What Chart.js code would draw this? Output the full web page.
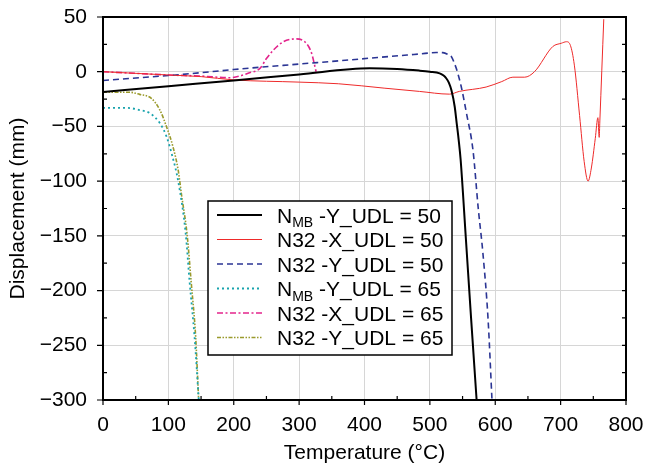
<!DOCTYPE html>
<html>
<head>
<meta charset="utf-8">
<script src="https://cdn.jsdelivr.net/npm/chart.js@4/dist/chart.umd.min.js"></script>
<style>
  html, body { margin: 0; padding: 0; background: #fff; }
  #wrap { width: 645px; height: 468px; position: relative; }
</style>
</head>
<body>
<div id="wrap"><canvas id="c" width="645" height="468"></canvas></div>
<script>
// ---- Data ----
const xTicks = [0, 100, 200, 300, 400, 500, 600, 700, 800];
const yTicks = [50, 0, -50, -100, -150, -200, -250, -300];

const nmbY50T = [0, 100, 200, 300, 408, 450, 484, 500, 515, 521, 525, 529, 533, 538, 541, 544, 547, 555, 563, 571.5];
const nmbY50D = [-18.5, -13.2, -8, -2.5, 3.2, 2.5, 1, 0, -1.5, -3.5, -6, -10, -17, -32, -47, -62, -80, -152, -225, -300];

const n32X50T = [0, 100, 150, 200, 300, 360, 430, 484, 530, 545, 586, 610, 627, 645, 660, 688, 701, 709, 715, 721, 729, 736, 742, 747, 753, 757, 759, 760, 766];
const n32X50D = [0, -3, -4.5, -7.5, -9.5, -11, -15, -18, -20.5, -18, -14, -9, -5, -5, 0, 23, 26, 27.4, 24, 6, -40, -82, -100, -88, -61, -42, -60, -45, 48];

const n32Y50T = [0, 100, 148, 200, 300, 362, 420, 484, 510, 520, 527, 533, 538, 542, 548, 556, 566, 574, 581, 589, 595];
const n32Y50D = [-8, -3.5, -1, 2, 7, 10, 13, 16.2, 17.5, 17.4, 16, 13.7, 7, 0, -13.7, -38, -72, -125, -165, -226, -300];

const nmbY65T = [0, 36, 56, 72, 87, 97, 106, 115, 126.5, 132.6, 140, 146.5];
const nmbY65D = [-33, -33, -35, -38, -47, -59, -77, -100, -148, -193, -242, -300];

const n32X65T = [0, 50, 100, 150, 194, 224, 240, 250, 261, 276, 295, 311, 319, 326];
const n32X65D = [0, -1.5, -3, -4, -5.5, -1, 3, 12, 20, 27.4, 30, 26, 17, 0];

const n32Y65T = [0, 41, 56, 74, 87, 97, 107, 115, 120, 128.5, 135, 141.7, 146.3];
const n32Y65D = [-18.8, -18.8, -20.7, -24.3, -35, -50, -68.5, -90, -112, -148, -193, -242, -300];

const seriesLabels = [
  ['N', 'MB', ' -Y_UDL = 50'],
  ['N32 -X_UDL = 50', '', ''],
  ['N32 -Y_UDL = 50', '', ''],
  ['N', 'MB', ' -Y_UDL = 65'],
  ['N32 -X_UDL = 65', '', ''],
  ['N32 -Y_UDL = 65', '', '']
];

function pts(t, d) { return t.map((x, i) => ({ x: x, y: d[i] })); }

const FONT = '"Liberation Sans", Arial, Helvetica, sans-serif';

const styles = [
  { color: '#000000', width: 2, dash: [] },
  { color: '#ee2a2a', width: 1, dash: [] },
  { color: '#2b3594', width: 1.6, dash: [6, 4] },
  { color: '#19a3ad', width: 1.8, dash: [2, 3] },
  { color: '#e3248c', width: 1.6, dash: [6, 2.5, 2, 2.5] },
  { color: '#9a9a2c', width: 1.6, dash: [4, 1.5, 1.5, 1.5, 1.5, 1.5] }
];

const seriesData = [
  pts(nmbY50T, nmbY50D), pts(n32X50T, n32X50D), pts(n32Y50T, n32Y50D),
  pts(nmbY65T, nmbY65D), pts(n32X65T, n32X65D), pts(n32Y65T, n32Y65D)
];

const datasets = seriesData.map((d, i) => ({
  data: d,
  borderColor: styles[i].color,
  borderWidth: styles[i].width,
  borderDash: styles[i].dash,
  pointRadius: 0,
  fill: false,
  cubicInterpolationMode: 'monotone'
}));

const decor = {
  id: 'decor',
  afterDraw(chart) {
    const ctx = chart.ctx;
    const a = chart.chartArea;
    const xs = chart.scales.x, ys = chart.scales.y;
    ctx.save();
    ctx.strokeStyle = '#000';
    ctx.lineWidth = 1.2;
    ctx.beginPath();
    for (let v = -300; v <= 50; v += 25) {
      const y = ys.getPixelForValue(v);
      ctx.moveTo(a.right, y); ctx.lineTo(a.right - 4, y);
      if (v % 50 === 0) { ctx.moveTo(a.left, y); ctx.lineTo(a.left - 6, y); }
      else { ctx.moveTo(a.left, y); ctx.lineTo(a.left + 4, y); }
    }
    for (let v = 0; v <= 800; v += 50) {
      const x = xs.getPixelForValue(v);
      if (v % 100 === 0) { ctx.moveTo(x, a.bottom); ctx.lineTo(x, a.bottom + 5); }
      else { ctx.moveTo(x, a.bottom); ctx.lineTo(x, a.bottom - 4); }
    }
    ctx.stroke();
    ctx.lineWidth = 2;
    ctx.strokeRect(a.left, a.top, a.right - a.left, a.bottom - a.top);

    // legend
    const bx = 208, by = 201, bw = 244, bh = 154;
    ctx.fillStyle = '#fff';
    ctx.fillRect(bx, by, bw, bh);
    ctx.lineWidth = 1.5;
    ctx.strokeRect(bx, by, bw, bh);
    for (let i = 0; i < 6; i++) {
      const y = 215 + i * 24.5;
      const s = styles[i];
      ctx.beginPath();
      ctx.strokeStyle = s.color;
      ctx.lineWidth = s.width;
      ctx.setLineDash(s.dash);
      ctx.moveTo(217, y); ctx.lineTo(262, y);
      ctx.stroke();
      ctx.setLineDash([]);
      ctx.fillStyle = '#000';
      ctx.textBaseline = 'alphabetic';
      ctx.textAlign = 'left';
      const lab = seriesLabels[i];
      ctx.font = '21px ' + FONT;
      let x = 277;
      ctx.fillText(lab[0], x, y + 7.5);
      x += ctx.measureText(lab[0]).width;
      if (lab[1]) {
        ctx.font = '14px ' + FONT;
        ctx.fillText(lab[1], x, y + 12);
        x += ctx.measureText(lab[1]).width;
        ctx.font = '21px ' + FONT;
        ctx.fillText(lab[2], x, y + 7.5);
      }
    }
    ctx.restore();
  }
};

new Chart(document.getElementById('c'), {
  type: 'line',
  data: { datasets: datasets },
  options: {
    responsive: false,
    animation: false,
    parsing: false,
    layout: { padding: { top: 17, right: 19, left: 0, bottom: 0 } },
    plugins: { legend: { display: false }, tooltip: { enabled: false } },
    scales: {
      x: {
        type: 'linear', min: 0, max: 800,
        afterBuildTicks: s => { s.ticks = xTicks.map(v => ({ value: v })); },
        afterFit: s => { s.height = 68; s.paddingLeft = 0; s.paddingRight = 0; },
        grid: { color: '#d6d6d6', lineWidth: 1, drawTicks: false },
        border: { display: false },
        ticks: { padding: 13, color: '#000', font: { family: FONT, size: 21 }, maxRotation: 0 },
        title: { display: true, text: 'Temperature (°C)', color: '#000', font: { family: FONT, size: 21 }, padding: { top: 0, bottom: 2 } }
      },
      y: {
        type: 'linear', min: -300, max: 50,
        afterBuildTicks: s => { s.ticks = yTicks.map(v => ({ value: v })); },
        afterFit: s => { s.width = 103; s.paddingTop = 0; s.paddingBottom = 0; },
        grid: { color: '#d6d6d6', lineWidth: 1, drawTicks: false },
        border: { display: false },
        ticks: { padding: 16, color: '#000', font: { family: FONT, size: 21 },
                 callback: v => String(v).replace('-', '\u2212') },
        title: { display: true, text: 'Displacement (mm)', color: '#000', font: { family: FONT, size: 21 }, padding: { top: 6, bottom: 0 } }
      }
    }
  },
  plugins: [decor]
});
</script>
</body>
</html>
